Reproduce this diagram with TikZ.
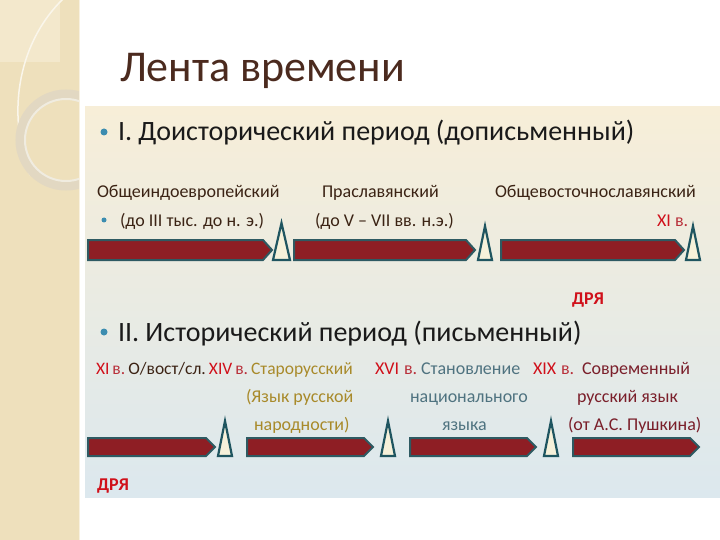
\documentclass[tikz,border=0pt]{standalone}
\usepackage{fontspec}
\setmainfont{Carlito}
\definecolor{strip}{HTML}{EEE0BC}
\definecolor{striplt}{HTML}{F3E8CC}
\definecolor{ringc}{HTML}{E2D8C2}
\definecolor{titlec}{HTML}{4B2A1E}
\definecolor{headc}{HTML}{1A1A1A}
\definecolor{rowc}{HTML}{3B2314}
\definecolor{bulc}{HTML}{3C8DB0}
\definecolor{redc}{HTML}{D0101A}
\definecolor{redb}{HTML}{B8303A}
\definecolor{olivec}{HTML}{A88A2A}
\definecolor{tealc}{HTML}{4F7380}
\definecolor{dredc}{HTML}{7A1F2A}
\definecolor{barfill}{HTML}{8E1E24}
\definecolor{barline}{HTML}{2E5A62}
\definecolor{trifill}{HTML}{F6F1DA}
\definecolor{triline}{HTML}{1F5560}
\tikzset{
  txt/.style={anchor=base west, inner sep=0pt, outer sep=0pt},
  rowtxt/.style={txt, font=\fontsize{18}{20}\selectfont},
  headtxt/.style={txt, font=\fontsize{28}{32}\selectfont, text=headc},
  bullet/.style={circle, fill=bulc, inner sep=0pt, minimum size=7pt},
  bar/.style={fill=barfill, draw=barline, line width=2pt, line join=miter},
  tri/.style={fill=trifill, draw=triline, line width=2.2pt, line join=miter}
}
\newcommand\tlbar[4]{% x1, x2, ytop, ybot
  \path[bar] (#1,#3) -- (#2-9,#3) -- (#2,{(#3+#4)/2}) -- (#2-9,#4) -- (#1,#4) -- cycle;}
\newcommand\tltri[4]{% xl, xr, ytop, ybot
  \path[tri] (#1,#4) -- ({(#1+#2)/2},#3) -- (#2,#4) -- cycle;}
\newcommand\tlsp{\hspace{3pt}}
\begin{document}
\begin{tikzpicture}[x=1pt,y=-1pt]
\useasboundingbox (0,0) rectangle (720,540);
\fill[white] (0,0) rectangle (720,540);
% left strip
\begin{scope}
  \clip (0,0) rectangle (79,540);
  \fill[strip] (0,0) rectangle (79,540);
  \fill[striplt] (0,0) rectangle (60,62);
  \draw[white!70!strip, line width=1.5pt] (64,-2) .. controls (20,40) and (5,110) .. (30,175);
  \draw[ringc, line width=9pt] (66,140) circle (46);
  \draw[white!50!ringc, line width=2pt] (66,140) circle (41);
\end{scope}
\draw[striplt!60!white, line width=1pt] (79,0) -- (79,540);
% panel
\shade[top color={rgb,255:red,247;green,238;blue,216}, middle color={rgb,255:red,204;green,223;blue,230}, bottom color={rgb,255:red,220;green,232;blue,238}] (85,107) rectangle (720,497);
% title
\node[txt, font=\fontsize{44}{48}\selectfont, text=titlec] (title) at (120,82) {Лента времени};
% part I
\node[bullet] (b1) at (104,132) {};
\node[headtxt] (h1) at (118,141) {I. Доисторический период (дописьменный)};
\node[rowtxt, text=rowc] (l1) at (97,197) {Общеиндоевропейский};
\node[rowtxt, text=rowc] (l2) at (322,197) {Праславянский};
\node[rowtxt, text=rowc] (l3) at (495,197) {Общевосточнославянский};
\node[bullet, minimum size=5pt] (b2) at (104,220) {};
\node[rowtxt, text=rowc] (d1) at (120,226) {(до III тыс. до н. э.)};
\node[rowtxt, text=rowc] (d2) at (315,226) {(до V – VII вв. н.э.)};
\node[rowtxt, text=redc] (d3) at (657,226) {XI};
\node[rowtxt, text=redb] (d3b) at (675,226) {в.};
\tlbar{88}{272}{240}{260}
\tltri{273}{290}{223}{260}
\tlbar{294}{475}{240}{260}
\tltri{478}{492}{226}{260}
\tlbar{501}{684}{240}{260}
\tltri{686}{700}{226}{260}
\node[txt, font=\bfseries\fontsize{18}{20}\selectfont, text=redc] (drya1) at (572,304) {ДРЯ};
% part II
\node[bullet] (b3) at (104,332) {};
\node[headtxt] (h2) at (118,341) {II. Исторический период (письменный)};
\node[rowtxt, text=redc, font=\fontsize{17.5}{20}\selectfont] (r1) at (96,374) {XI\tlsp\textcolor{redb}{в.}\tlsp\textcolor{rowc}{О/вост/сл.}\tlsp XIV\tlsp\textcolor{redb}{в.}\tlsp\textcolor{olivec}{Старорусский}};
\node[rowtxt, text=redc] (r5) at (375,374) {XVI};
\node[rowtxt, text=redb] (r5b) at (404,374) {в.};
\node[rowtxt, text=tealc] (r6) at (421,374) {Становление};
\node[rowtxt, text=redc] (r7) at (533,374) {XIX};
\node[rowtxt, text=redb] (r7b) at (561,374) {в.};
\node[rowtxt, text=dredc] (r8) at (582,374) {Современный};
\node[rowtxt, text=olivec] (s1) at (246,402) {(Язык русской};
\node[rowtxt, text=tealc] (s2) at (410,402) {национального};
\node[rowtxt, text=dredc] (s3) at (577,402) {русский язык};
\node[rowtxt, text=olivec] (t1) at (254,430) {народности)};
\node[rowtxt, text=tealc] (t2) at (442,430) {языка};
\node[rowtxt, text=dredc] (t3) at (568,430) {(от А.С. Пушкина)};
\tlbar{88}{215}{438}{456}
\tltri{218}{232}{421}{456}
\tlbar{247}{373}{438}{456}
\tltri{381}{395}{421}{456}
\tlbar{410}{536}{438}{456}
\tltri{544}{558}{421}{456}
\tlbar{573}{699}{438}{456}
\node[txt, font=\bfseries\fontsize{18}{20}\selectfont, text=redc] (drya2) at (97,490) {ДРЯ};
\end{tikzpicture}
\end{document}
